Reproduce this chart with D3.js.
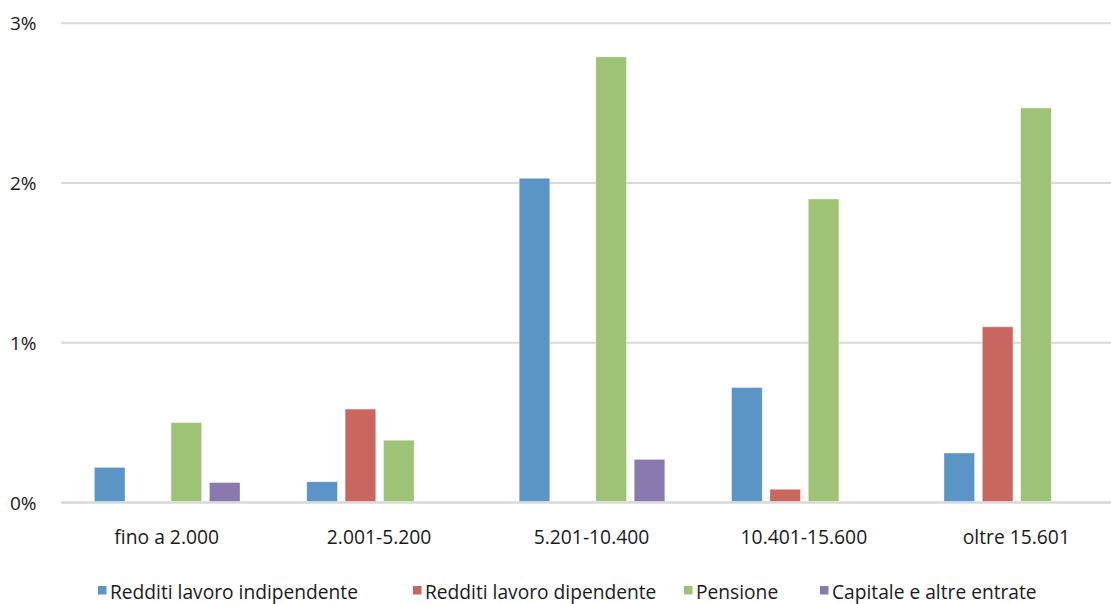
<!DOCTYPE html>
<html>
<head>
<meta charset="utf-8">
<script src="https://cdn.jsdelivr.net/npm/d3@7"></script>
<style>
  body { margin: 0; background: #fff; }
  svg { display: block; font-family: "Open Sans", sans-serif; }
</style>
</head>
<body>
<script>
// data (percent)
const categories = ["fino a 2.000", "2.001-5.200", "5.201-10.400", "10.401-15.600", "oltre 15.601"];
const seriesNames = ["Redditi lavoro indipendente", "Redditi lavoro dipendente", "Pensione", "Capitale e altre entrate"];
const indipendente = [0.22, 0.13, 2.03, 0.72, 0.31];
const dipendente = [0, 0.585, 0, 0.083, 1.10];
const pensione = [0.50, 0.39, 2.79, 1.90, 2.47];
const capitale = [0.125, 0, 0.27, 0, 0];
const yTicks = [0, 1, 2, 3];
const colors = ["#5b94c7", "#c9665f", "#9fc376", "#8a79ae"];

const seriesValues = [indipendente, dipendente, pensione, capitale];

const width = 1111, height = 604;
const margin = { top: 23, left: 61, bottom: 101 };

const svg = d3.select("body").append("svg")
    .attr("width", width)
    .attr("height", height);

const x0 = d3.scaleBand()
    .domain(categories)
    .range([margin.left, 1123])
    .padding(0);

const x1 = d3.scaleBand()
    .domain(d3.range(seriesNames.length))
    .range([0, x0.bandwidth()])
    .paddingInner(0.2)
    .paddingOuter(0.87);

const y = d3.scaleLinear()
    .domain([0, 3])
    .range([height - margin.bottom - 0.5, margin.top + 0.3]);

// grid lines
svg.append("g")
    .selectAll("line")
    .data(yTicks)
    .join("line")
    .attr("x1", margin.left)
    .attr("x2", 1123)
    .attr("y1", d => y(d))
    .attr("y2", d => y(d))
    .attr("stroke", "#d9d9d9")
    .attr("stroke-width", d => d === 0 ? 2.5 : 2);

// y labels
svg.append("g")
    .selectAll("text")
    .data(yTicks)
    .join("text")
    .attr("x", 10)
    .attr("y", d => y(d) + 7)
    .attr("font-size", 19)
    .attr("fill", "#1a1a1a")
    .text(d => d + "%");

// bars
const groups = svg.append("g")
    .selectAll("g")
    .data(categories)
    .join("g")
    .attr("transform", d => `translate(${x0(d)},0)`);

groups.selectAll("rect")
    .data((d, i) => seriesValues.map((s, j) => ({ series: j, value: s[i] })))
    .join("rect")
    .filter(d => d.value > 0)
    .attr("x", d => x1(d.series))
    .attr("width", x1.bandwidth())
    .attr("y", d => y(d.value))
    .attr("height", d => y(0) - y(d.value) - 1)
    .attr("fill", d => colors[d.series])
    .attr("stroke", "#fff")
    .attr("stroke-opacity", 0.5)
    .attr("stroke-width", 0.8);

// category labels
svg.append("g")
    .selectAll("text")
    .data(categories)
    .join("text")
    .attr("x", d => x0(d) + x0.bandwidth() / 2 - 0.5)
    .attr("y", 543.5)
    .attr("text-anchor", "middle")
    .attr("font-size", 19.3)
    .attr("fill", "#1a1a1a")
    .text(d => d);

// legend
const legendX = [98, 413, 684, 820];
const legend = svg.append("g")
    .selectAll("g")
    .data(seriesNames)
    .join("g")
    .attr("transform", (d, i) => `translate(${legendX[i]},586)`);

legend.append("rect")
    .attr("width", 8.5)
    .attr("height", 8.5)
    .attr("fill", (d, i) => colors[i]);

legend.append("text")
    .attr("x", 12)
    .attr("y", 12.8)
    .attr("font-size", 19.2)
    .attr("fill", "#1a1a1a")
    .text(d => d);
</script>
</body>
</html>
